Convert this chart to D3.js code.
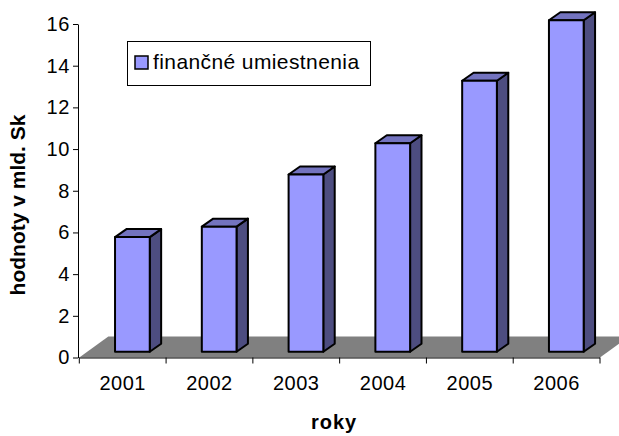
<!DOCTYPE html>
<html>
<head>
<meta charset="utf-8">
<script src="https://cdnjs.cloudflare.com/ajax/libs/d3/7.8.5/d3.min.js"></script>
<style>
  body { margin: 0; background: #fff; }
  text { font-family: Arial, "Liberation Sans", sans-serif; fill: #000; }
</style>
</head>
<body>
<svg id="chart" width="619" height="436"></svg>
<script>
// data
var years = ["2001", "2002", "2003", "2004", "2005", "2006"];
var values = [5.5, 6.0, 8.5, 10.0, 13.0, 15.9];
var yTicks = [0, 2, 4, 6, 8, 10, 12, 14, 16];
var seriesName = "finančné umiestnenia";

(function() {
  var svg = d3.select("#chart");

  // plot frame (front plane of the floor)
  var plotLeft = 79.3, plotRight = 600, plotBottom = 357.5, plotTop = 24;
  // depth of the floor and of the bars
  var floorDx = 29, floorDy = -21;
  var barDx = 11.4, barDy = -8;
  // bars stand a little behind the front edge
  var offX = 9.7, offY = -5.8;

  var x = d3.scaleBand()
      .domain(years)
      .range([plotLeft, plotRight])
      .paddingInner(0.6)
      .paddingOuter(0.3);

  var y = d3.scaleLinear()
      .domain([0, 16])
      .range([plotBottom, plotTop]);

  function pts(arr) { return arr.map(function(p) { return p.join(","); }).join(" "); }

  // floor
  svg.append("polygon")
      .attr("points", pts([
        [plotLeft, plotBottom], [plotRight, plotBottom],
        [plotRight + floorDx, plotBottom + floorDy], [plotLeft + floorDx, plotBottom + floorDy]
      ]))
      .attr("fill", "#808080");

  // y axis
  var yAxis = svg.append("g")
      .attr("transform", "translate(78,0)")
      .call(d3.axisLeft(y).tickValues(yTicks).tickSize(5).tickPadding(3).tickSizeOuter(0));
  yAxis.select(".domain").attr("stroke", "#000");
  yAxis.selectAll(".tick line").attr("stroke", "#000");
  yAxis.selectAll(".tick text")
      .attr("font-size", 20)
      .attr("letter-spacing", 0.6)
      .attr("font-family", "Arial, 'Liberation Sans', sans-serif")
      .attr("fill", "#000");

  // x axis: tick marks on the band boundaries, labels in the middle
  var step = x.step();
  var bounds = d3.range(years.length + 1).map(function(i) { return plotLeft + i * step; });
  var xAxis = svg.append("g");
  xAxis.append("line")
      .attr("x1", plotLeft).attr("x2", plotRight)
      .attr("y1", plotBottom + 0.5).attr("y2", plotBottom + 0.5)
      .attr("stroke", "#000");
  xAxis.selectAll("line.tk")
      .data(bounds)
    .enter().append("line")
      .attr("class", "tk")
      .attr("x1", function(d) { return d; }).attr("x2", function(d) { return d; })
      .attr("y1", plotBottom).attr("y2", plotBottom + 6)
      .attr("stroke", "#000");
  xAxis.selectAll("text")
      .data(years)
    .enter().append("text")
      .attr("x", function(d, i) { return plotLeft + (i + 0.5) * step; })
      .attr("y", 389.5)
      .attr("text-anchor", "middle")
      .attr("font-size", 20)
      .attr("letter-spacing", 0.5)
      .text(function(d) { return d; });

  // bars
  var bw = x.bandwidth();
  svg.selectAll("g.bar")
      .data(values)
    .enter().append("g")
      .attr("class", "bar")
      .each(function(v, i) {
        var g = d3.select(this);
        var x0 = x(years[i]) + offX, x1 = x0 + bw;
        var y0 = y(0) + offY, y1 = y(v) + offY;
        // side
        g.append("polygon")
            .attr("points", pts([[x1, y1], [x1 + barDx, y1 + barDy], [x1 + barDx, y0 + barDy], [x1, y0]]))
            .attr("fill", "#4d4d80");
        // top
        g.append("polygon")
            .attr("points", pts([[x0, y1], [x0 + barDx, y1 + barDy], [x1 + barDx, y1 + barDy], [x1, y1]]))
            .attr("fill", "#7373bf");
        // front
        g.append("rect")
            .attr("x", x0).attr("y", y1)
            .attr("width", bw).attr("height", y0 - y1)
            .attr("fill", "#9999ff");
        g.selectAll("*")
            .attr("stroke", "#000")
            .attr("stroke-width", 2)
            .attr("stroke-linejoin", "round");
      });

  // axis titles
  svg.append("text")
      .attr("x", 334)
      .attr("y", 429)
      .attr("text-anchor", "middle")
      .attr("font-size", 20)
      .attr("font-weight", "bold")
      .attr("letter-spacing", 1)
      .text("roky");

  svg.append("text")
      .attr("transform", "translate(25,205) rotate(-90)")
      .attr("text-anchor", "middle")
      .attr("font-size", 21)
      .attr("font-weight", "bold")
      .text("hodnoty v mld. Sk");

  // legend
  var legend = svg.append("g");
  legend.append("rect")
      .attr("x", 127.5).attr("y", 41.5)
      .attr("width", 243).attr("height", 44)
      .attr("fill", "#fff")
      .attr("stroke", "#000");
  legend.append("rect")
      .attr("x", 135).attr("y", 56)
      .attr("width", 13).attr("height", 13)
      .attr("fill", "#9999ff")
      .attr("stroke", "#000")
      .attr("stroke-width", 1.5);
  legend.append("text")
      .attr("x", 153)
      .attr("y", 69)
      .attr("font-size", 21)
      .attr("letter-spacing", 0.4)
      .text(seriesName);
})();
</script>
</body>
</html>
